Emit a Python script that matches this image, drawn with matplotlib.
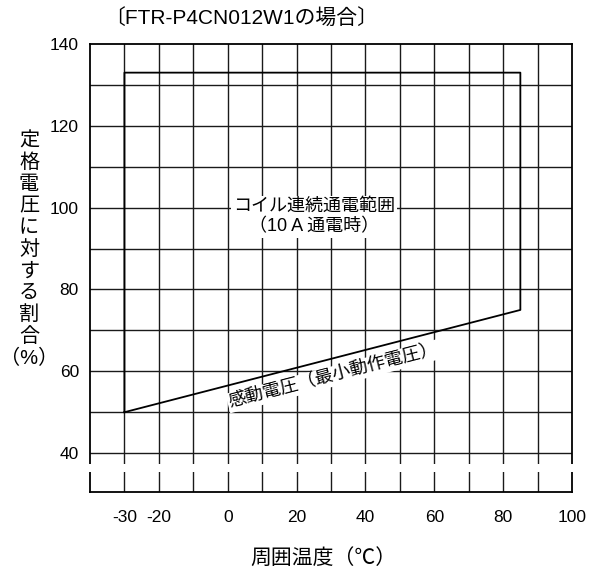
import matplotlib
matplotlib.use('Agg')
import matplotlib.pyplot as plt
from matplotlib.patches import Rectangle
import numpy as np

plt.rcParams['font.family'] = ['Liberation Sans', 'Noto Sans CJK JP', 'DejaVu Sans']
plt.rcParams['axes.unicode_minus'] = False

# operating range outline (temp, % of rated voltage)
range_temp = [-30, -30, 85, 85, -30]
range_volt = [50, 133, 133, 75, 50]

x_ticks = [-30, -20, 0, 20, 40, 60, 80, 100]
x_grid = list(range(-30, 100, 10))
y_ticks = [40, 60, 80, 100, 120, 140]
y_grid = list(range(40, 140, 10))

title = '〔FTR-P4CN012W1の場合〕'
xlabel = '周囲温度（℃）'
ylabel_chars = list('定格電圧に対する割合') + ['（%）']
range_label = 'コイル連続通電範囲\n（10 A 通電時）'
pickup_label = '感動電圧（最小動作電圧）'

W, H = 597, 568
fig = plt.figure(figsize=(W / 100, H / 100), dpi=100)
ax = fig.add_axes([90 / W, 1 - 492 / H, (572 - 90) / W, (492 - 44) / H])
ax.set_xlim(-40, 100)
ax.set_ylim(30.5, 140)

for x in x_grid:
    ax.axvline(x, color='#1a1a1a', lw=1.0, zorder=1)
for y in y_grid:
    ax.axhline(y, color='#1a1a1a', lw=1.0, zorder=1)

ax.plot(range_temp, range_volt, color='black', lw=1.3, zorder=2)

for s in ax.spines.values():
    s.set_linewidth(1.3)

ax.set_xticks(x_ticks)
ax.set_yticks(y_ticks)
ax.tick_params(length=0, labelsize=12.5)
ax.tick_params(axis='x', pad=13)
ax.tick_params(axis='y', pad=8)

# axis break below 40
ax.add_patch(Rectangle((-0.02, 35.43), 1.04, 37.24 - 35.43, facecolor='white',
                       edgecolor='none', transform=ax.get_yaxis_transform(),
                       clip_on=False, zorder=5))

ax.text(25, 97.8, range_label, ha='center', va='center', fontsize=13,
        multialignment='center', linespacing=1.25, zorder=3,
        bbox=dict(facecolor='white', edgecolor='none', pad=1.5))

p0 = ax.transData.transform((-30, 50))
p1 = ax.transData.transform((85, 75))
ang = np.degrees(np.arctan2(p1[1] - p0[1], p1[0] - p0[0]))
ax.text(30.8, 58.8, pickup_label, ha='center', va='center', fontsize=13,
        rotation=ang, rotation_mode='anchor', zorder=3,
        bbox=dict(facecolor='white', edgecolor='none', pad=1.0))

fig.text(104 / W, 1 - 19 / H, title, ha='left', va='center', fontsize=15)
fig.text(323 / W, 1 - 558 / H, xlabel, ha='center', va='center', fontsize=15)
for i, ch in enumerate(ylabel_chars):
    fig.text(29 / W, 1 - (141 + i * 21.7) / H, ch, ha='center', va='center',
             fontsize=14.5)

fig.savefig('out.png', dpi=100)
